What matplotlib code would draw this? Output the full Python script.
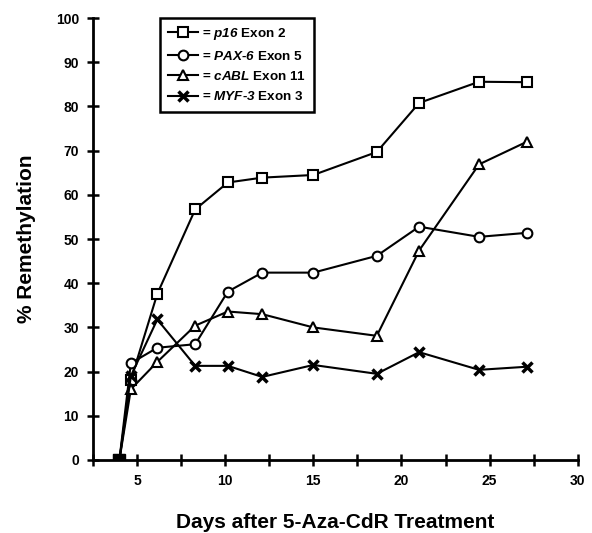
import matplotlib
matplotlib.use('Agg')
import matplotlib.pyplot as plt
from matplotlib.ticker import MultipleLocator

plt.rcParams['font.family'] = 'Liberation Sans'
plt.rcParams['font.weight'] = 'bold'
plt.rcParams['mathtext.fontset'] = 'custom'
plt.rcParams['mathtext.it'] = 'Liberation Sans:italic:bold'
plt.rcParams['mathtext.rm'] = 'Liberation Sans:italic:bold'

days = [4, 4.65, 6.15, 8.3, 10.15, 12.1, 15.0, 18.6, 21.0, 24.4, 27.1]
p16 = [0, 18.1, 37.6, 56.7, 62.8, 63.9, 64.5, 69.7, 80.8, 85.6, 85.5]
pax6 = [0, 21.9, 25.4, 26.2, 38.1, 42.4, 42.4, 46.2, 52.8, 50.5, 51.4]
cabl = [0, 16.0, 22.2, 30.4, 33.6, 33.0, 30.0, 28.1, 47.4, 66.9, 72.0]
myf3 = [0, 19.0, 31.8, 21.3, 21.3, 18.8, 21.5, 19.5, 24.4, 20.4, 21.1]

labels = ['= $p16$ Exon 2', '= $PAX$-$6$ Exon 5', '= $cABL$ Exon 11', '= $MYF$-$3$ Exon 3']

fig = plt.figure(figsize=(5.92, 5.33), dpi=100)
ax = fig.add_axes([0.157, 0.137, 0.819, 0.829])

kw = dict(color='black', lw=1.5, mfc='white', mec='black', mew=1.5, ms=7)
ax.plot(days, p16, marker='s', label=labels[0], **kw)
ax.plot(days, pax6, marker='o', label=labels[1], **kw)
ax.plot(days, cabl, marker='^', label=labels[2], **kw)
kx = dict(kw)
kx['mew'] = 2.5
ax.plot(days, myf3, marker='x', label=labels[3], **kx)
# filled start point
ax.plot(days[0], p16[0], marker='s', color='black', ms=8, zorder=5)

ax.set_xlim(2.5, 30)
ax.set_ylim(0, 100)
ax.xaxis.set_major_locator(MultipleLocator(5))
ax.xaxis.set_minor_locator(MultipleLocator(2.5))
ax.yaxis.set_major_locator(MultipleLocator(10))
ax.tick_params(which='both', direction='inout', length=8, width=1.8, labelsize=10, pad=6)
ax.spines['top'].set_visible(False)
ax.spines['right'].set_visible(False)
ax.spines['left'].set_linewidth(2)
ax.spines['bottom'].set_linewidth(2)
ax.set_xticks([5, 10, 15, 20, 25, 30])
ax.set_xticklabels(['5', '10', '15', '20', '25', '30'])

ax.set_xlabel('Days after 5-Aza-CdR Treatment', fontsize=15, fontweight='bold', labelpad=18)
ax.set_ylabel('% Remethylation', fontsize=15, fontweight='bold', labelpad=14)

leg = ax.legend(loc='upper left', bbox_to_anchor=(0.138, 1.0), borderaxespad=0, fontsize=9.7,
                frameon=True, fancybox=False, handlelength=2.2, handletextpad=0.3,
                labelspacing=0.55, borderpad=0.6, edgecolor='black', framealpha=1)
leg.get_frame().set_linewidth(1.8)

fig.savefig('out.png', dpi=100)
